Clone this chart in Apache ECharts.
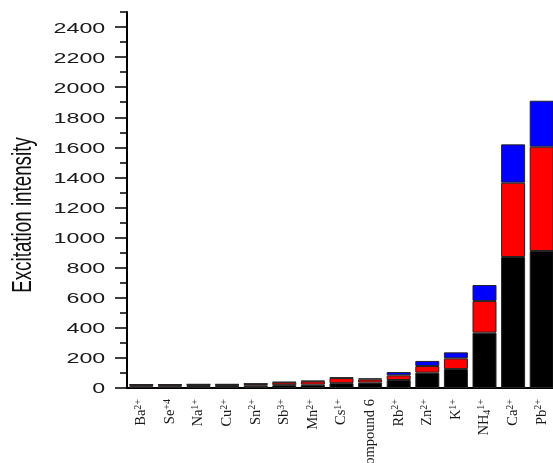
<!DOCTYPE html>
<html>
<head>
<meta charset="utf-8">
<script src="https://cdn.jsdelivr.net/npm/echarts@6/dist/echarts.min.js"></script>
<style>
  html, body { margin: 0; padding: 0; background: #fff; }
  #wrap { position: relative; width: 553px; height: 463px; overflow: hidden; }
  #plot { position: absolute; left: 0; top: 0; width: 553px; height: 463px; }
  /* y-axis text layer, drawn in a horizontally stretched frame */
  #ytext { position: absolute; left: 0; top: 0; width: 368.667px; height: 463px;
           transform: scaleX(1.5); transform-origin: 0 0; }
</style>
</head>
<body>
<div id="wrap">
  <div id="plot"></div>
  <div id="ytext"></div>
</div>
<script>
// Ion labels: "^" starts a superscript, "_" marks a subscript digit
const categories = ['Ba^2+', 'Se^+4', 'Na^1+', 'Cu^2+', 'Sn^2+', 'Sb^3+', 'Mn^2+', 'Cs^1+',
                    'Compound 6', 'Rb^2+', 'Zn^2+', 'K^1+', 'NH_4^1+', 'Ca^2+', 'Pb^2+'];
// Stacked contributions to the excitation intensity
const blackPart = [12, 12, 13, 13, 15, 19, 22, 32, 36, 53, 102, 126, 368, 871, 911];
const redPart   = [10, 10, 10, 10, 12, 18, 22, 34, 21, 31, 44, 71, 210, 494, 693];
const bluePart  = [2, 2, 2, 2, 2, 3, 4, 4, 7, 22, 34, 40, 107, 255, 306];
// Y axis ticks
const yTicks = [0, 200, 400, 600, 800, 1000, 1200, 1400, 1600, 1800, 2000, 2200, 2400];
const yMinorTicks = [100, 300, 500, 700, 900, 1100, 1300, 1500, 1700, 1900, 2100, 2300, 2500];
const yMin = 0, yMax = 2500;
const yTitle = 'Excitation intensity';

function ionLabel(v) {
  return v.replace(/_(\d+)/, '{sub|$1}').replace(/\^(.+)$/, '{sup|$1}');
}

const plot = echarts.init(document.getElementById('plot'), null, { renderer: 'canvas' });
const barBorder = { borderColor: '#222', borderWidth: 1 };
plot.setOption({
  animation: false,
  backgroundColor: '#fff',
  // the plot runs past the right edge, and long labels past the bottom
  grid: { left: 127, top: 12, bottom: 75, width: 429, containLabel: false, outerBoundsMode: 'none' },
  xAxis: [
    {
      type: 'category', data: categories, position: 'bottom',
      axisLine: { lineStyle: { color: '#000', width: 2 } },
      axisTick: { alignWithLabel: true, length: 7, lineStyle: { color: '#000', width: 1.5 } },
      axisLabel: {
        rotate: 90, margin: 11, interval: 0, color: '#1a1a1a',
        fontFamily: 'Liberation Serif', fontSize: 14.5, lineHeight: 16,
        formatter: ionLabel,
        rich: {
          sup: { fontFamily: 'Liberation Serif', fontSize: 10, lineHeight: 10, verticalAlign: 'top', color: '#1a1a1a' },
          sub: { fontFamily: 'Liberation Serif', fontSize: 10, lineHeight: 10, verticalAlign: 'bottom', color: '#1a1a1a' }
        }
      }
    },
    {
      type: 'category', data: categories, position: 'bottom',
      axisLine: { show: false },
      axisTick: { alignWithLabel: false, length: 3, lineStyle: { color: '#000', width: 1 } },
      axisLabel: { show: false }
    }
  ],
  yAxis: [
    {
      type: 'value', min: yMin, max: yMax, interval: 200,
      axisLine: { show: true, lineStyle: { color: '#000', width: 2 } },
      axisTick: { show: true, length: 12, customValues: yTicks, lineStyle: { color: '#000', width: 1.5 } },
      axisLabel: { show: false },
      splitLine: { show: false }
    },
    {
      type: 'value', min: yMin, max: yMax, interval: 100, position: 'left',
      axisLine: { show: false },
      axisTick: { show: true, length: 7, customValues: yMinorTicks, lineStyle: { color: '#000', width: 1.5 } },
      axisLabel: { show: false },
      splitLine: { show: false }
    }
  ],
  series: [
    { type: 'bar', stack: 'total', data: blackPart, barWidth: 24, itemStyle: Object.assign({ color: '#000' }, barBorder) },
    { type: 'bar', stack: 'total', data: redPart, barWidth: 24, itemStyle: Object.assign({ color: '#ff0000' }, barBorder) },
    { type: 'bar', stack: 'total', data: bluePart, barWidth: 24, itemStyle: Object.assign({ color: '#0000ff' }, barBorder) }
  ]
});

// Y axis labels and title, on the same value scale as the plot
const ytext = echarts.init(document.getElementById('ytext'), null, { renderer: 'svg' });
ytext.setOption({
  animation: false,
  grid: { left: 84.667, top: 12, bottom: 75, right: 0, outerBoundsMode: 'none' },
  xAxis: { type: 'category', data: categories, show: false },
  yAxis: {
    type: 'value', min: yMin, max: yMax, interval: 200,
    axisLine: { show: false }, axisTick: { show: false }, splitLine: { show: false },
    axisLabel: {
      customValues: yTicks, margin: 14.5, color: '#1a1a1a',
      fontFamily: 'Liberation Sans', fontSize: 15.5,
      formatter: function (v) { return String(v); }
    }
  },
  graphic: [{
    type: 'text', x: 14.3, y: 215, rotation: Math.PI / 2,
    style: {
      text: yTitle, fill: '#111', fontFamily: 'Liberation Sans', fontSize: 18.8,
      textAlign: 'center', textVerticalAlign: 'middle'
    }
  }],
  series: []
});
</script>
</body>
</html>
